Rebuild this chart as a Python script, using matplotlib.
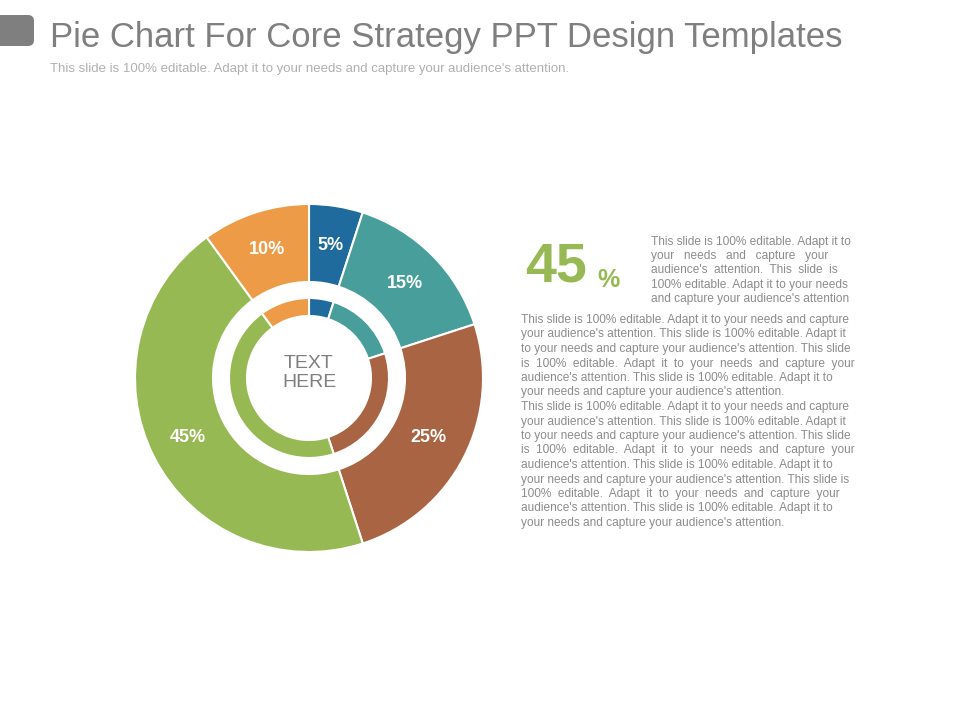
import matplotlib.pyplot as plt
from matplotlib.patches import FancyBboxPatch

# slice data, clockwise from 12 o'clock
labels = ["5%", "15%", "25%", "45%", "10%"]
values = [5, 15, 25, 45, 10]
colors = ["#1f6b9e", "#479e9a", "#a86443", "#97b953", "#ee9b47"]

side_lines = [
    "This slide is 100% editable. Adapt it to",
    "your   needs   and   capture   your",
    "audience's  attention.  This  slide  is",
    "100% editable. Adapt it to your needs",
    "and capture your audience's attention",
]
body_lines = [
    "This slide is 100% editable. Adapt it to your needs and capture",
    "your audience's attention. This slide is 100% editable. Adapt it",
    "to your needs and capture your audience's attention. This slide",
    "is  100%  editable.  Adapt  it  to  your  needs  and  capture  your",
    "audience's attention. This slide is 100% editable. Adapt it to",
    "your needs and capture your audience's attention.",
    "This slide is 100% editable. Adapt it to your needs and capture",
    "your audience's attention. This slide is 100% editable. Adapt it",
    "to your needs and capture your audience's attention. This slide",
    "is  100%  editable.  Adapt  it  to  your  needs  and  capture  your",
    "audience's attention. This slide is 100% editable. Adapt it to",
    "your needs and capture your audience's attention. This slide is",
    "100%  editable.  Adapt  it  to  your  needs  and  capture  your",
    "audience's attention. This slide is 100% editable. Adapt it to",
    "your needs and capture your audience's attention.",
]

plt.rcParams["font.family"] = "Liberation Sans"
fig = plt.figure(figsize=(9.6, 7.2), dpi=100)
ax = fig.add_axes([0, 0, 1, 1])
ax.set_xlim(0, 960)
ax.set_ylim(0, 720)
ax.set_aspect("equal")
ax.axis("off")

cx, cy = 309, 720 - 378

# outer ring
wedges, _ = ax.pie(values, colors=colors, startangle=90, counterclock=False,
                   radius=174, center=(cx, cy),
                   wedgeprops=dict(width=78, edgecolor="white", linewidth=1.5))
# inner ring
ax.pie(values, colors=colors, startangle=90, counterclock=False,
       radius=80, center=(cx, cy),
       wedgeprops=dict(width=18, edgecolor="white", linewidth=1.5))
ax.set_xlim(0, 960)
ax.set_ylim(0, 720)

label_pos = [(330, 245), (405, 283), (428, 438), (188, 438), (267, 250)]
for lab, (x, y) in zip(labels, label_pos):
    ax.text(x, 720 - y, lab, color="white", fontsize=13, fontweight="bold",
            ha="center", va="center")

ax.text(cx, 720 - 373, "TEXT\nHERE", color="#7f7f7f", fontsize=14,
        ha="center", va="center", linespacing=1.2)

# header
ax.add_patch(FancyBboxPatch((-10, 720 - 46), 44, 31,
                            boxstyle="round,pad=0,rounding_size=6",
                            facecolor="#7f7f7f", edgecolor="none"))
ax.text(50, 720 - 38, "Pie Chart For Core Strategy PPT Design Templates",
        color="#7f7f7f", fontsize=25, va="center")
ax.text(50, 720 - 69,
        "This slide is 100% editable. Adapt it to your needs and capture your audience's attention.",
        color="#b0b0b0", fontsize=9.5, va="center")

# right side text
ax.text(525, 720 - 268, "45", color="#97b953", fontsize=40,
        fontweight="bold", va="center")
ax.text(597, 720 - 280, "%", color="#97b953", fontsize=18,
        fontweight="bold", va="center")
for i, line in enumerate(side_lines):
    ax.text(651, 720 - (242 + i * 14.2), line, color="#8c8c8c",
            fontsize=8.6, va="center")
for i, line in enumerate(body_lines):
    ax.text(521, 720 - (320 + i * 14.5), line, color="#8c8c8c",
            fontsize=8.6, va="center")

fig.savefig("out.png", dpi=100)
